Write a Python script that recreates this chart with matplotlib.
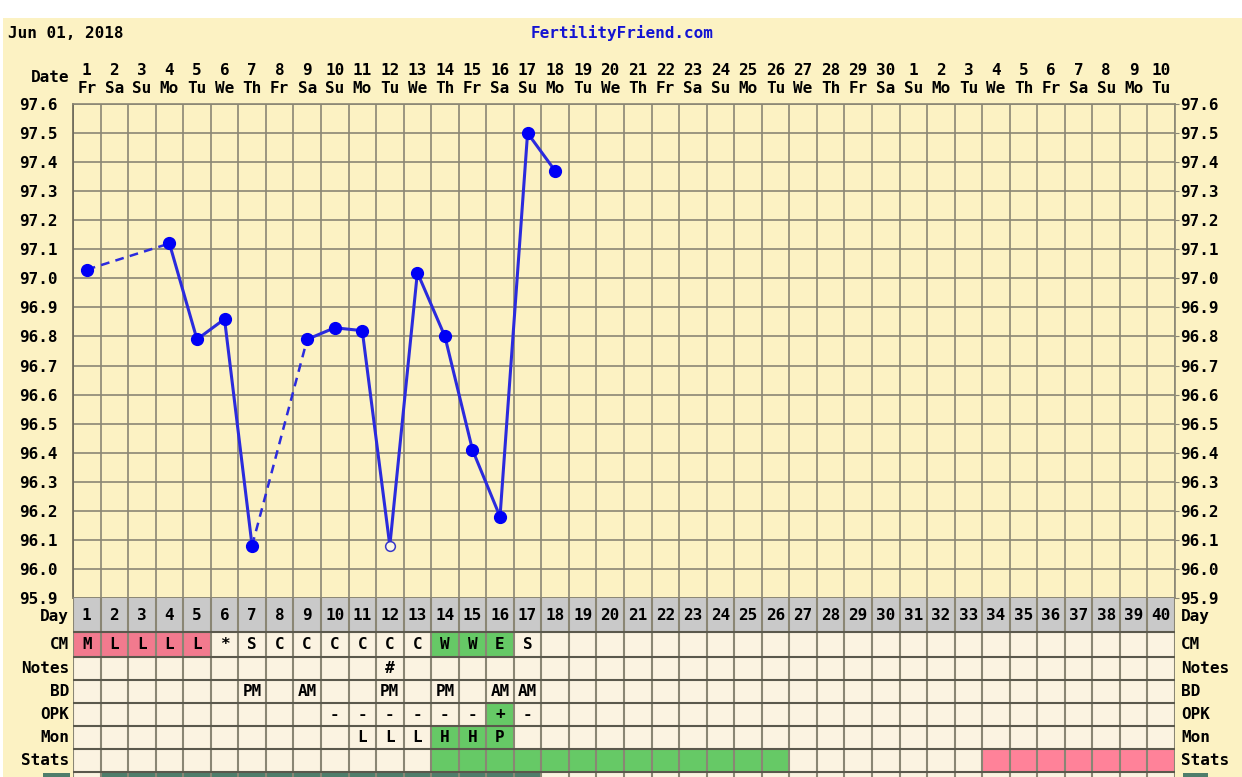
import matplotlib
matplotlib.use("Agg")
import matplotlib.pyplot as plt
from matplotlib.patches import Rectangle
import numpy as np
import pandas as pd

# ---------------------------------------------------------------- data
cycle_start = "2018-06-01"
n_days = 40
dates = pd.date_range(cycle_start, periods=n_days)
cycle_days = list(range(1, n_days + 1))
day_of_month = [str(d.day) for d in dates]
weekdays = [d.strftime("%a")[:2] for d in dates]

temp_days = [1, 4, 5, 6, 7, 9, 10, 11, 12, 13, 14, 15, 16, 17, 18]
temps = [97.03, 97.12, 96.79, 96.86, 96.08, 96.79, 96.83, 96.82,
         96.08, 97.02, 96.80, 96.41, 96.18, 97.50, 97.37]
open_days = [12]
temp_ticks = [95.9, 96.0, 96.1, 96.2, 96.3, 96.4, 96.5, 96.6, 96.7,
              96.8, 96.9, 97.0, 97.1, 97.2, 97.3, 97.4, 97.5, 97.6]

cm_days = [1, 2, 3, 4, 5, 6, 7, 8, 9, 10, 11, 12, 13, 14, 15, 16, 17]
cm_text = ["M", "L", "L", "L", "L", "*", "S", "C", "C", "C", "C", "C", "C",
           "W", "W", "E", "S"]
period_days = [1, 2, 3, 4, 5]
cm_fertile_days = [14, 15, 16]

notes_days = [12]
notes_text = ["#"]

bd_days = [7, 9, 12, 14, 16, 17]
bd_text = ["PM", "AM", "PM", "PM", "AM", "AM"]

opk_days = [10, 11, 12, 13, 14, 15, 16, 17]
opk_text = ["-", "-", "-", "-", "-", "-", "+", "-"]
opk_positive_days = [16]

mon_days = [11, 12, 13, 14, 15, 16]
mon_text = ["L", "L", "L", "H", "H", "P"]
mon_high_days = [14, 15, 16]

stats_fertile_days = list(range(14, 27))
stats_late_days = list(range(34, 41))
bar_row_days = list(range(2, 18))

row_names = ["Day", "CM", "Notes", "BD", "OPK", "Mon", "Stats"]

# ---------------------------------------------------------------- style
W, H = 1242, 777
BG = "#FCF2C3"
CELL = "#FBF3E1"
GRID = "#8A8674"
ROWLINE = "#5A584C"
DAYROW = "#C9C9C9"
PINK = "#F27A8E"
STAT_PINK = "#FF8299"
GREEN = "#66C966"
TEAL = "#4F7D6B"
LINE = "#2B2BDD"
DOT = "#0000F5"
MONO = {"family": "DejaVu Sans Mono", "weight": "bold"}
FS = 11.5

fig = plt.figure(figsize=(W / 100, H / 100), dpi=100, facecolor="white")


def fx(px):
    return px / W


def fy(py):
    return 1 - py / H


fig.patches.append(Rectangle((fx(3), 0), 1 - fx(3), fy(18), transform=fig.transFigure,
                             facecolor=BG, edgecolor="none", zorder=-10))

# ---------------------------------------------------------------- temperature chart
L, R, T, B = 73, 1175, 104, 598
ax = fig.add_axes([fx(L), fy(B), fx(R) - fx(L), (B - T) / H])
ax.set_facecolor(BG)
ax.set_xlim(0.5, n_days + 0.5)
ax.set_ylim(95.9, 97.6)
ax.vlines(np.arange(0.5, n_days + 1), 95.9, 97.6, color=GRID, lw=1.2, zorder=1)
ax.hlines(temp_ticks, 0.5, n_days + 0.5, color=GRID, lw=1.2, zorder=1)
for s in ax.spines.values():
    s.set_color(GRID)
    s.set_linewidth(1.2)
ax.spines["left"].set_color("#6A6656")

ax.xaxis.tick_top()
ax.set_xticks(cycle_days)
ax.set_xticklabels([f"{d}\n{w}" for d, w in zip(day_of_month, weekdays)],
                   fontsize=FS, linespacing=1.2, **MONO)
ax.tick_params(axis="x", length=0, pad=6)
ax.set_yticks(temp_ticks)
ax.set_yticklabels([f"{t:.1f}" for t in temp_ticks], fontsize=FS, **MONO)
ax.tick_params(axis="y", length=0, pad=11)

sec = ax.secondary_yaxis("right")
sec.set_yticks(temp_ticks)
sec.set_yticklabels([f"{t:.1f}" for t in temp_ticks], fontsize=FS, **MONO)
sec.tick_params(length=3, pad=1, color=GRID)
sec.spines["right"].set_visible(False)

# connecting lines: solid between consecutive days, dashed across missing days
for (d0, t0), (d1, t1) in zip(zip(temp_days, temps), zip(temp_days[1:], temps[1:])):
    if d1 - d0 > 1:
        ax.plot([d0, d1], [t0, t1], color=LINE, lw=1.8, ls=(0, (3.5, 2.5)), zorder=3)
    else:
        ax.plot([d0, d1], [t0, t1], color=LINE, lw=2.2, zorder=3)

filled = [(d, t) for d, t in zip(temp_days, temps) if d not in open_days]
hollow = [(d, t) for d, t in zip(temp_days, temps) if d in open_days]
ax.plot([d for d, _ in filled], [t for _, t in filled], "o", ms=8.5,
        color=DOT, mec=DOT, zorder=4)
ax.plot([d for d, _ in hollow], [t for _, t in hollow], "o", ms=7,
        mfc="#FBF6E6", mec="#3838C8", mew=1.1, zorder=4)

# ---------------------------------------------------------------- header texts
fig.text(fx(8), fy(33), "Jun 01, 2018", ha="left", va="center", fontsize=FS, **MONO)
fig.text(fx(622), fy(33), "FertilityFriend.com", ha="center", va="center",
         fontsize=FS, color="#1414D2", **MONO)
fig.text(fx(69), fy(78), "Date", ha="right", va="center", fontsize=FS, **MONO)

# ---------------------------------------------------------------- observation table
row_edges = [598, 632, 657, 680, 703, 726, 749, 772, 800]
tab = fig.add_axes([fx(L), 0, fx(R) - fx(L), (H - B) / H])
tab.set_xlim(0.5, n_days + 0.5)
tab.set_ylim(H, B)
tab.axis("off")
tab.add_patch(Rectangle((0.5, B), n_days, H - B, facecolor=CELL, edgecolor="none", zorder=0))


def row_span(i):
    return row_edges[i], row_edges[i + 1] - row_edges[i]


def fill_cells(row, days, color):
    top, h = row_span(row)
    tab.bar(days, h, bottom=top, width=1.0, color=color, edgecolor="none", zorder=1)


def put_text(row, days, texts, dy=0):
    top, h = row_span(row)
    for d, s in zip(days, texts):
        tab.text(d, top + h / 2 + dy, s, ha="center", va="center",
                 fontsize=FS, zorder=4, **MONO)


fill_cells(0, cycle_days, DAYROW)
fill_cells(1, period_days, PINK)
fill_cells(1, cm_fertile_days, GREEN)
fill_cells(4, opk_positive_days, GREEN)
fill_cells(5, mon_high_days, GREEN)
fill_cells(6, stats_fertile_days, GREEN)
fill_cells(6, stats_late_days, STAT_PINK)
fill_cells(7, bar_row_days, TEAL)

put_text(0, cycle_days, [str(d) for d in cycle_days], dy=1)
put_text(1, cm_days, cm_text)
put_text(2, notes_days, notes_text)
put_text(3, bd_days, bd_text)
put_text(4, opk_days, opk_text)
put_text(5, mon_days, mon_text)

tab.vlines(np.arange(0.5, n_days + 1), B, H, color=GRID, lw=1.5, zorder=3)
tab.hlines(row_edges[1:-1], 0.5, n_days + 0.5, color=ROWLINE, lw=1.5, zorder=3)

col_px = (R - L) / n_days
for i, name in enumerate(row_names):
    top, h = row_span(i)
    dy = 2 if i == 0 else 0
    tab.text(0.5 - 4 / col_px, top + h / 2 + dy, name, ha="right", va="center",
             fontsize=FS, clip_on=False, **MONO)
    tab.text(n_days + 0.5 + 6 / col_px, top + h / 2 + dy, name, ha="left", va="center",
             fontsize=FS, clip_on=False, **MONO)

# partially visible label boxes of the next row
tab.add_patch(Rectangle((0.5 - 30 / col_px, 773), 27 / col_px, 10, facecolor=TEAL,
                        edgecolor="none", clip_on=False, zorder=2))
tab.add_patch(Rectangle((n_days + 0.5 + 8 / col_px, 773), 25 / col_px, 10, facecolor=TEAL,
                        edgecolor="none", clip_on=False, zorder=2))

fig.savefig("out.png", dpi=100, facecolor="white")
